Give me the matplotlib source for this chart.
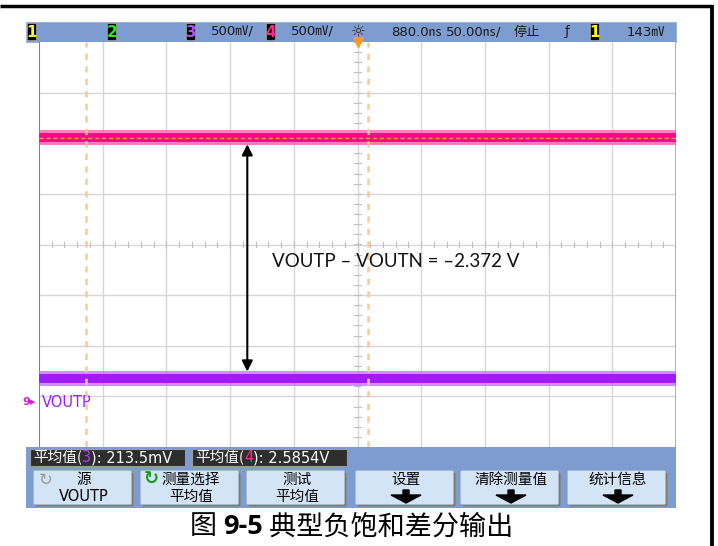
import matplotlib.pyplot as plt
from matplotlib.patches import Rectangle, FancyBboxPatch, Polygon
import numpy as np

CJK = ['Noto Sans CJK SC', 'DejaVu Sans']
LAT = ['DejaVu Sans', 'Noto Sans CJK SC']

# scope settings / readings
x_divs = 10
y_divs = 8
volts_per_div = 0.5
ch3_mean = "213.5mV"
ch4_mean = "2.5854V"
diff_label = "VOUTP \u2013 VOUTN = \u20132.372 V"

# trace levels, in divisions from centre
ch4_level = 2.11
ch3_level = -2.65
trace_core = 0.09
trace_fuzz = 0.15
arrow_x = -1.73
arrow_top = 1.98
arrow_bottom = -2.51
cursor_x = [-4.27, 0.16]

# top status bar
status_boxes = [("1", "#ffff00", 27), ("2", "#22ee22", 107), ("3", "#b050ff", 186),
                ("4", "#ff2a8a", 266), ("1", "#ffff00", 590)]
status_texts = [("500\u33b7/", 211), ("500\u33b7/", 291), ("880.0\u33b1", 391),
                ("50.00\u33b1/", 446), ("停止", 514), ("\u0192", 565), ("143\u33b7", 627)]

# soft keys
key_top = ["源", "测量选择", "测试", "设置", "清除测量值", "统计信息"]
key_bottom = ["VOUTP", "平均值", "平均值", None, None, None]
key_x = [35, 142, 248, 357, 462, 569]

fig = plt.figure(figsize=(7.18, 5.46), dpi=100)
fig.patch.set_facecolor('white')

# pixel overlay for instrument chrome
ui = fig.add_axes([0, 0, 1, 1], zorder=0)
ui.set_xlim(0, 718)
ui.set_ylim(546, 0)
ui.axis('off')

# outer frame (top + right)
ui.plot([0, 712], [5.5, 5.5], color='black', lw=2.5, solid_capstyle='butt')
ui.plot([711.5, 711.5], [5, 546], color='black', lw=2.8, solid_capstyle='butt')

blue = '#7d9ccf'
ui.add_patch(Rectangle((26, 22), 650, 20, facecolor=blue, edgecolor='#9fb6dc', lw=0.8))
ui.add_patch(Rectangle((26, 447), 650, 61, facecolor=blue, edgecolor='none'))

for txt, col, x0 in status_boxes:
    ui.add_patch(FancyBboxPatch((x0 + 1, 24), 8, 16, boxstyle="round,pad=0.7",
                                facecolor='black', edgecolor='#b0b0b0', lw=0.6))
    ui.text(x0 + 5, 32.5, txt, color=col, fontsize=11, fontweight='bold',
            ha='center', va='center', family=LAT)
for txt, x0 in status_texts:
    ui.text(x0, 32, txt, color='#1a1a1a', fontsize=9.5, ha='left', va='center', family=LAT)
ui.text(358, 32, "\u263c", color='#333333', fontsize=12, ha='center', va='center', family=LAT)

# measurement readouts
for i, (ch, val, col) in enumerate([("3", ch3_mean, '#b040ff'), ("4", ch4_mean, '#ff2a8a')]):
    x0 = 30 + i * 162
    ui.add_patch(Rectangle((x0, 449), 155, 17, facecolor='#2e2e2e', edgecolor='#9a9a9a', lw=0.8))
    t = ui.text(x0 + 3, 458, "平均值(", color='white', fontsize=10.5, va='center', family=CJK)
    t2 = ui.annotate(ch, xycoords=t, xy=(1, 0.5), va='center', color=col, fontsize=10.5,
                     family=LAT, annotation_clip=False)
    ui.annotate("): " + val, xycoords=t2, xy=(1, 0.5), va='center', color='white',
                fontsize=10.5, family=LAT, annotation_clip=False)

for i in range(6):
    x0 = key_x[i]
    ui.add_patch(FancyBboxPatch((x0 + 2, 474), 95, 31, boxstyle="round,pad=1.5",
                                facecolor='#7f7f66', edgecolor='none'))
    ui.add_patch(FancyBboxPatch((x0, 472), 95, 31, boxstyle="round,pad=1.5",
                                facecolor='#d4e4f7', edgecolor='#a8b8cc', lw=0.6))
    cx = x0 + 49
    ui.text(cx, 480, key_top[i], fontsize=10.5, ha='center', va='center', family=CJK, color='black')
    if key_bottom[i] is not None:
        ui.text(cx, 496.5, key_bottom[i], fontsize=10.5, ha='center', va='center',
                family=['DejaVu Sans', 'Noto Sans CJK SC'], color='black')
    else:
        ui.add_patch(Polygon([[cx - 3, 490], [cx + 3, 490], [cx + 3, 495], [cx + 15, 495],
                              [cx, 503], [cx - 15, 495], [cx - 3, 495]], closed=True,
                             facecolor='black', edgecolor='black'))
ui.text(key_x[0] + 11, 480, "\u21bb", fontsize=12, color='#9a9a9a', ha='center', va='center', family=LAT)
ui.text(key_x[1] + 9, 479, "\u21bb", fontsize=13, color='#1a9a1a', fontweight='bold',
        ha='center', va='center', family=LAT)

# caption
c1 = ui.text(190, 527, "图 ", fontsize=19.5, ha='left', va='center', family=CJK, color='black')
c2 = ui.annotate("9-5", xycoords=c1, xy=(1, 0.5), va='center', fontsize=19.5, fontweight='bold',
                 family=['Open Sans', 'DejaVu Sans'], color='black', annotation_clip=False)
ui.annotate(" 典型负饱和差分输出", xycoords=c2, xy=(1, 0.5), va='center', fontsize=19.5,
            family=CJK, color='black', annotation_clip=False)

# graticule
ax = fig.add_axes([39 / 718, 1 - 447 / 546, 637 / 718, 405 / 546], zorder=1)
ax.set_xlim(-x_divs / 2, x_divs / 2)
ax.set_ylim(-y_divs / 2, y_divs / 2)
ax.set_facecolor('white')
for s in ax.spines.values():
    s.set_visible(False)
ax.set_xticks([])
ax.set_yticks([])

for gx in np.arange(-x_divs / 2 + 1, x_divs / 2):
    ax.axvline(gx, color='#d6d6d6', lw=1, zorder=1)
for gy in np.arange(-y_divs / 2 + 1, y_divs / 2):
    ax.axhline(gy, color='#d6d6d6', lw=1, zorder=1)
ax.axvline(-x_divs / 2, color='#808080', lw=1.5, zorder=2)
ax.axvline(x_divs / 2, color='#a0a0a0', lw=1.2, zorder=2)

minor_x = np.arange(-x_divs / 2, x_divs / 2 + 0.01, 0.2)
minor_y = np.arange(-y_divs / 2, y_divs / 2 + 0.01, 0.2)
for mx in minor_x:
    ax.plot([mx, mx], [-0.05, 0.05], color='#c0c0c0', lw=0.8, zorder=1)
for my in minor_y:
    ax.plot([-0.06, 0.06], [my, my], color='#c0c0c0', lw=0.8, zorder=1)

xs = np.array([-x_divs / 2, x_divs / 2])
ax.fill_between(xs, ch4_level - trace_fuzz, ch4_level + trace_fuzz, color='#ff5aa8', alpha=0.75, lw=0, zorder=3)
ax.fill_between(xs, ch4_level - trace_core, ch4_level + trace_core, color='#ff0a84', lw=0, zorder=3)
ax.fill_between(xs, ch3_level - trace_fuzz, ch3_level + trace_fuzz, color='#bb6bff', alpha=0.75, lw=0, zorder=3)
ax.fill_between(xs, ch3_level - trace_core, ch3_level + trace_core, color='#a01cff', lw=0, zorder=3)
ax.axhline(ch4_level, color='#ffa040', lw=1, ls=(0, (3, 2)), zorder=4)

for cxv in cursor_x:
    ax.axvline(cxv, color='#ffc890', lw=1.8, ls=(0, (2.5, 2.5)), zorder=4)

ax.annotate("", xy=(arrow_x, arrow_top), xytext=(arrow_x, arrow_bottom),
            arrowprops=dict(arrowstyle='<|-|>', color='black', lw=1.5, mutation_scale=16,
                            shrinkA=0, shrinkB=0), zorder=5)
ax.text(-1.35, -0.33, diff_label, fontsize=13.5, family=['Lato', 'DejaVu Sans'],
        ha='left', va='center', color='#111111', zorder=6)

# channel 3 label and ground marker
ax.text(-4.95, -3.12, "VOUTP", color='#a01cff', fontsize=10.5, ha='left', va='center', family=LAT)
ax.text(-5.05, -3.12, "9\u25b8", color='#d020d0', fontsize=8, fontweight='bold', ha='right',
        va='center', family=LAT, clip_on=False)

# trigger marker
ax.plot([0], [4], marker='v', color='#ff9a1a', markersize=7, clip_on=False, zorder=6)

fig.savefig('out.png', dpi=100)
